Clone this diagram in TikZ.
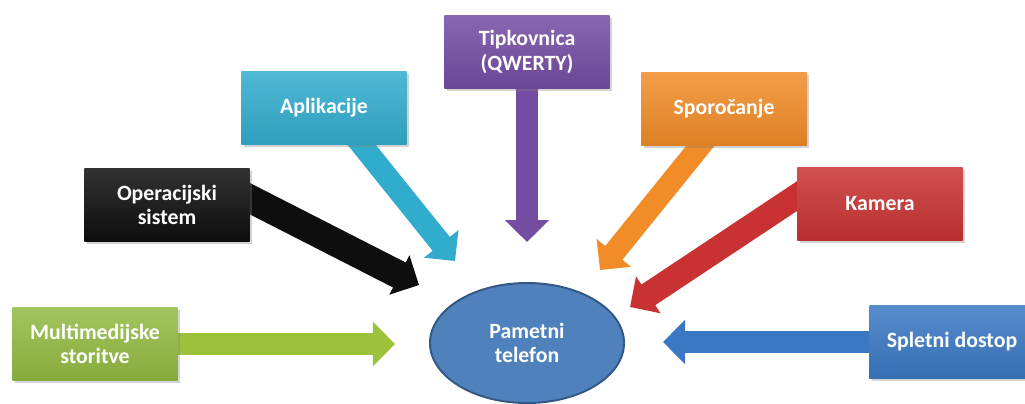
\documentclass[tikz,border=0pt]{standalone}
\usepackage{fontspec}
\setmainfont{Carlito}
\usepackage{tikz}
\usetikzlibrary{arrows.meta,shapes,shadows,backgrounds}

\definecolor{osblack}{RGB}{14,14,14}
\definecolor{appcyan}{RGB}{49,172,205}
\definecolor{kbpurple}{RGB}{116,76,162}
\definecolor{msgorange}{RGB}{241,140,40}
\definecolor{camred}{RGB}{200,50,50}
\definecolor{mmgreen}{RGB}{146,186,66}
\definecolor{webblue}{RGB}{58,120,196}
\definecolor{phoneblue}{RGB}{79,129,189}
\definecolor{phoneedge}{RGB}{52,88,132}

\tikzset{
  box/.style={rectangle, minimum width=4.125cm, minimum height=1.825cm,
    align=center, text=white, inner sep=2pt,
    font=\fontsize{15.5}{17.5}\selectfont\bfseries,
    top color=#1!85!white, bottom color=#1!92!black,
    drop shadow={opacity=0.35, shadow xshift=0.06cm, shadow yshift=-0.07cm}},
  flow/.style={line width=0.55cm, draw=#1,
    -{Triangle[length=0.55cm, width=1.075cm]}},
}

\begin{document}
\begin{tikzpicture}[x=0.025cm, y=-0.025cm]
  \useasboundingbox (0,0) rectangle (1025,403);

  % boxes
  \node[box=kbpurple] (kb) at (527,52) {Tipkovnica\\(QWERTY)};
  \node[box=appcyan] (app) at (324,108) {Aplikacije};
  \node[box=msgorange] (msg) at (724,109) {Sporočanje};
  \node[box=osblack] (os) at (167,205) {Operacijski\\sistem};
  \node[box=camred] (cam) at (880,204) {Kamera};
  \node[box=mmgreen] (mm) at (95,344) {Multimedijske\\storitve};
  \node[box=webblue] (web) at (952,342) {Spletni dostop};

  % phone
  \node[ellipse, draw=phoneedge, line width=1.4pt, fill=phoneblue,
    minimum width=4.85cm, minimum height=3cm, align=center, text=white,
    font=\fontsize{15.5}{17.5}\selectfont\bfseries] (phone) at (527,343) {Pametni\\telefon};

  % arrow ends
  \coordinate (kbEnd) at (527,242);
  \coordinate (appEnd) at (455,261);
  \coordinate (msgEnd) at (600,270);
  \coordinate (osEnd) at (419,285);
  \coordinate (camEnd) at (630,307);
  \coordinate (mmEnd) at (395,344);
  \coordinate (webEnd) at (663,342);

  % draw arrows
  \begin{scope}[on background layer]
    \draw[flow=kbpurple] ([shift={(0,-13)}]kb.south) -- (kbEnd);
    \draw[flow=appcyan] ([shift={(28,-12)}]app.south) -- (appEnd);
    \draw[flow=msgorange] ([shift={(-14,-12)}]msg.south) -- (msgEnd);
    \draw[flow=osblack, line width=0.7cm] ([shift={(-13,-13)}]os.east) -- (osEnd);
    \draw[flow=camred, line width=0.62cm] ([shift={(12,-16)}]cam.west) -- (camEnd);
    \draw[flow=mmgreen!90!yellow] ([shift={(-10,0)}]mm.east) -- (mmEnd);
    \draw[flow=webblue] ([shift={(10,0)}]web.west) -- (webEnd);
  \end{scope}
\end{tikzpicture}
\end{document}
